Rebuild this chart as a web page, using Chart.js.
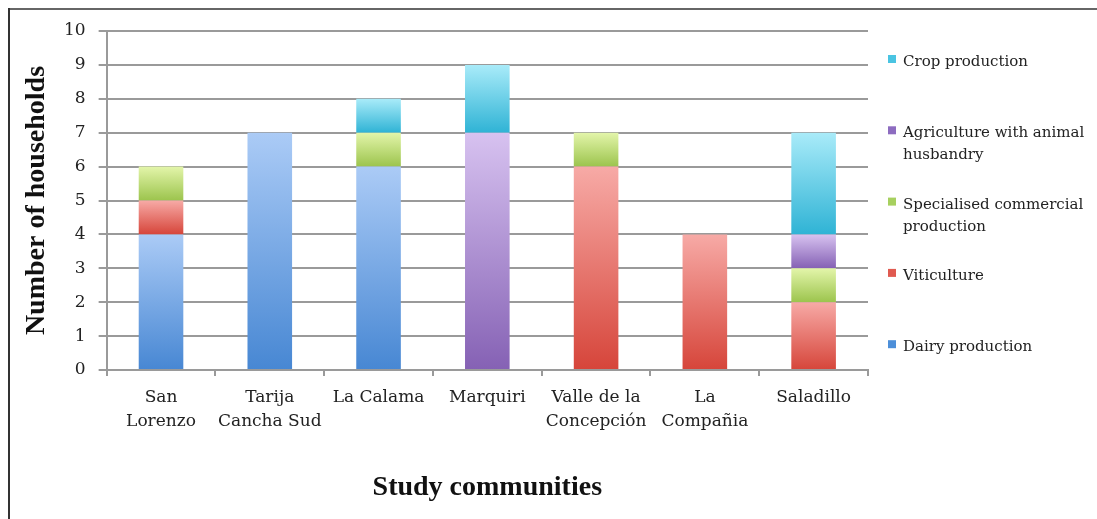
<!DOCTYPE html>
<html>
<head>
<meta charset="utf-8">
<script src="https://cdn.jsdelivr.net/npm/chart.js@4.4.0/dist/chart.umd.min.js"></script>
<style>
  html, body { margin: 0; padding: 0; background: #fff; }
  #wrap { width: 1097px; height: 519px; position: relative; }
</style>
</head>
<body>
<div id="wrap"><canvas id="graphe"></canvas></div>
<script>
// categories (study communities)
var communities = [['San', 'Lorenzo'], ['Tarija', 'Cancha Sud'], 'La Calama', 'Marquiri',
    ['Valle de la', 'Concepción'], ['La', 'Compañia'], 'Saladillo'];
// number of households per production type, stacked bottom to top
var dairy       = [4, 7, 6, null, null, null, null];
var viticulture = [1, null, null, null, 6, 4, 2];
var specialised = [1, null, 1, null, 1, null, 1];
var agriculture = [null, null, null, 7, null, null, 1];
var crop        = [null, null, 1, 2, null, null, 3];
var yTicks = [0, 1, 2, 3, 4, 5, 6, 7, 8, 9, 10];

var seriesNames = ['Dairy production', 'Viticulture', 'Specialised commercial production',
    'Agriculture with animal husbandry', 'Crop production'];
// legend text split in lines like the original
var legendLines = [['Dairy production'], ['Viticulture'], ['Specialised commercial', 'production'],
    ['Agriculture with animal', 'husbandry'], ['Crop production']];
var topColors    = ['#abcbf6', '#f7aaa6', '#e3f5aa', '#d7c2f0', '#a9ebf9'];
var bottomColors = ['#4787d3', '#d6453a', '#9cc44d', '#8561b4', '#2fb3d5'];
var boxColors    = ['#4d8fd9', '#e05a50', '#a7d05f', '#8d6cc0', '#4ac4e2'];

//gradient from top to bottom of each piece of bar
function barGradient(k) {
    return function (c) {
        var chart = c.chart;
        var y = chart.scales.y;
        if (c.type !== 'data' || !y) return bottomColors[k];
        var base = 0;
        for (var i = 0; i < c.datasetIndex; i++) {
            base += chart.data.datasets[i].data[c.dataIndex] || 0;
        }
        var v = c.raw || 0;
        var y0 = y.getPixelForValue(base + v), y1 = y.getPixelForValue(base);
        if (!isFinite(y0) || !isFinite(y1) || y0 === y1) return bottomColors[k];
        var g = chart.ctx.createLinearGradient(0, y0, 0, y1);
        g.addColorStop(0, topColors[k]);
        g.addColorStop(1, bottomColors[k]);
        return g;
    };
}

var allData = [dairy, viticulture, specialised, agriculture, crop];
var datasets = allData.map(function (d, k) {
    return {
        label: seriesNames[k],
        data: d,
        backgroundColor: barGradient(k),
        borderWidth: 0,
        barPercentage: 0.41,
        categoryPercentage: 1.0
    };
});

//outer frame of the figure
var framePlugin = {
    id: 'frame',
    beforeDraw: function (chart) {
        var ctx = chart.ctx;
        ctx.save();
        ctx.fillStyle = '#fff';
        ctx.fillRect(0, 0, chart.width, chart.height);
        ctx.lineWidth = 2;
        ctx.strokeStyle = '#666';
        ctx.beginPath();
        ctx.moveTo(8, 9);
        ctx.lineTo(chart.width, 9);
        ctx.stroke();
        ctx.strokeStyle = '#333';
        ctx.beginPath();
        ctx.moveTo(9, 8);
        ctx.lineTo(9, chart.height);
        ctx.stroke();
        ctx.restore();
    }
};

//legend on the right, last series on top
var legendPlugin = {
    id: 'sideLegend',
    afterDraw: function (chart) {
        var ctx = chart.ctx;
        var area = chart.chartArea;
        var n = chart.data.datasets.length;
        ctx.save();
        ctx.font = '15px "DejaVu Serif"';
        ctx.textBaseline = 'alphabetic';
        ctx.textAlign = 'left';
        for (var j = 0; j < n; j++) {
            var k = n - 1 - j;
            var capTop = area.top + 24 + j * 71.3;
            ctx.fillStyle = boxColors[k];
            ctx.fillRect(area.right + 20, capTop, 8, 8);
            ctx.fillStyle = '#222';
            legendLines[k].forEach(function (line, l) {
                ctx.fillText(line, area.right + 35, capTop + 11 + l * 22);
            });
        }
        ctx.restore();
    }
};

var ctx = document.getElementById('graphe').getContext('2d');
var myChart = new Chart(ctx, {
    type: 'bar',
    data: { labels: communities, datasets: datasets },
    plugins: [framePlugin, legendPlugin],
    options: {
        responsive: true,
        maintainAspectRatio: false,
        animation: false,
        layout: { padding: { left: 14, right: 229, top: 31, bottom: 15 } },
        plugins: { legend: { display: false }, tooltip: { enabled: false } },
        scales: {
            x: {
                stacked: true,
                grid: { offset: true, drawOnChartArea: false, color: '#9a9a9a', lineWidth: 2, tickLength: 6 },
                border: { color: '#9a9a9a', width: 2 },
                ticks: {
                    color: '#222', padding: 10, maxRotation: 0, autoSkip: false,
                    font: { family: 'DejaVu Serif', size: 17, lineHeight: 1.41 }
                },
                title: {
                    display: true, text: 'Study communities', color: '#111',
                    font: { family: 'Liberation Serif', size: 28, weight: 'bold', lineHeight: 1 },
                    padding: { top: 30, bottom: 2 }
                }
            },
            y: {
                stacked: true,
                min: 0, max: 10,
                afterBuildTicks: function (axis) {
                    axis.ticks = yTicks.map(function (v) { return { value: v }; });
                },
                grid: { color: '#9a9a9a', lineWidth: 2, tickLength: 8 },
                border: { color: '#9a9a9a', width: 2 },
                ticks: {
                    color: '#222', padding: 13,
                    font: { family: 'DejaVu Serif', size: 17 }
                },
                title: {
                    display: true, text: 'Number of households', color: '#111',
                    font: { family: 'Liberation Serif', size: 28, weight: 'bold', lineHeight: 1 },
                    padding: { top: 9, bottom: 0 }
                }
            }
        }
    }
});
</script>
</body>
</html>
